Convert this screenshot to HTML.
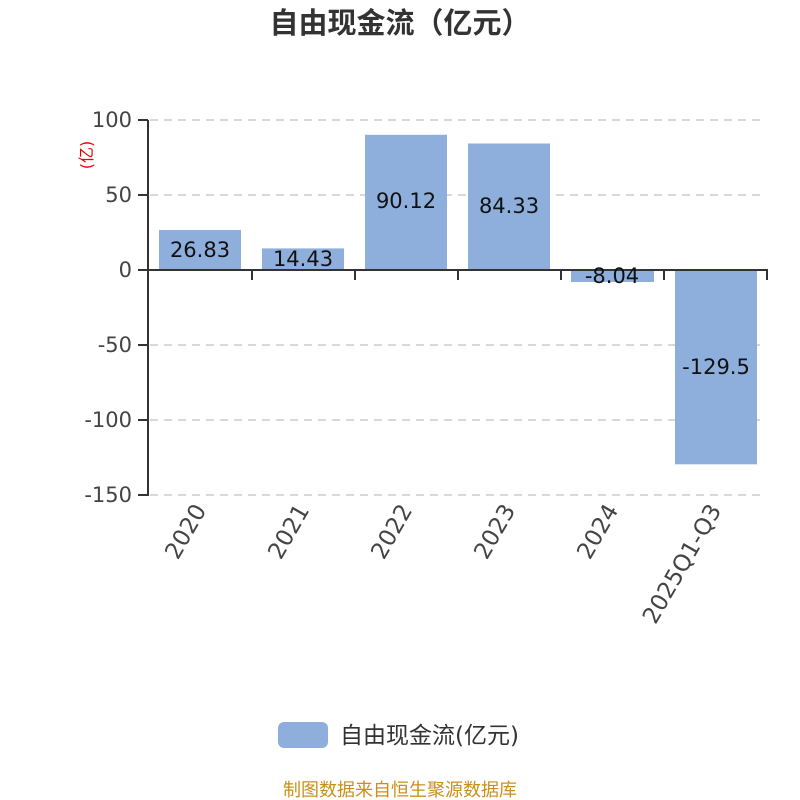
<!DOCTYPE html>
<html><head><meta charset="utf-8"><style>
html,body{margin:0;padding:0;background:#fff;}
svg{display:block;}
text{font-family:"DejaVu Sans","Noto Sans CJK SC",sans-serif;}
</style></head><body>
<svg width="800" height="800" viewBox="0 0 800 800" xmlns="http://www.w3.org/2000/svg">
<text x="400" y="33" text-anchor="middle" font-size="29" font-weight="bold" fill="#333" style="font-family:'Noto Sans CJK SC',sans-serif">自由现金流（亿元）</text>
<g stroke="#ccc" stroke-width="1.5" stroke-dasharray="8,6">
<line x1="150" y1="120" x2="766" y2="120"/>
<line x1="150" y1="195" x2="766" y2="195"/>
<line x1="150" y1="345" x2="766" y2="345"/>
<line x1="150" y1="420" x2="766" y2="420"/>
<line x1="150" y1="495" x2="766" y2="495"/>
</g>
<g fill="#8eaedb">
<rect x="159" y="230" width="82" height="40"/>
<rect x="262" y="248.4" width="82" height="21.6"/>
<rect x="365" y="134.8" width="82" height="135.2"/>
<rect x="468" y="143.5" width="82" height="126.5"/>
<rect x="571" y="270" width="83" height="12"/>
<rect x="675" y="270" width="82" height="194.3"/>
</g>
<g stroke="#333" stroke-width="2">
<line x1="148" y1="120" x2="148" y2="496"/>
<line x1="138" y1="120" x2="148" y2="120"/>
<line x1="138" y1="195" x2="148" y2="195"/>
<line x1="138" y1="270" x2="148" y2="270"/>
<line x1="138" y1="345" x2="148" y2="345"/>
<line x1="138" y1="420" x2="148" y2="420"/>
<line x1="138" y1="495" x2="148" y2="495"/>
<line x1="148" y1="270" x2="768" y2="270"/>
<line x1="252" y1="270" x2="252" y2="280"/>
<line x1="355" y1="270" x2="355" y2="280"/>
<line x1="458" y1="270" x2="458" y2="280"/>
<line x1="561" y1="270" x2="561" y2="280"/>
<line x1="664" y1="270" x2="664" y2="280"/>
<line x1="767" y1="270" x2="767" y2="280"/>
</g>
<g font-size="21" fill="#444" text-anchor="end">
<text x="132" y="127">100</text>
<text x="132" y="202">50</text>
<text x="132" y="277">0</text>
<text x="132" y="352">-50</text>
<text x="132" y="427">-100</text>
<text x="132" y="502">-150</text>
</g>
<text transform="translate(92,155) rotate(-90)" text-anchor="middle" font-size="16" fill="#e00">(亿)</text>
<g font-size="21" fill="#111" text-anchor="middle">
<text x="200" y="257">26.83</text>
<text x="303" y="266">14.43</text>
<text x="406" y="208">90.12</text>
<text x="509" y="213">84.33</text>
<text x="612" y="283">-8.04</text>
<text x="716" y="374">-129.5</text>
</g>
<g font-size="23" fill="#444" text-anchor="end">
<text transform="translate(207,510) rotate(-60)">2020</text>
<text transform="translate(310,510) rotate(-60)">2021</text>
<text transform="translate(413,510) rotate(-60)">2022</text>
<text transform="translate(516,510) rotate(-60)">2023</text>
<text transform="translate(619,510) rotate(-60)">2024</text>
<text transform="translate(722,510) rotate(-60)">2025Q1-Q3</text>
</g>
<rect x="278" y="722" width="50" height="26" rx="6" fill="#8eaedb"/>
<text x="340" y="743" font-size="23" fill="#333">自由现金流(亿元)</text>
<text x="400" y="796" text-anchor="middle" font-size="18" fill="#c8901a">制图数据来自恒生聚源数据库</text>
</svg>
</body></html>
